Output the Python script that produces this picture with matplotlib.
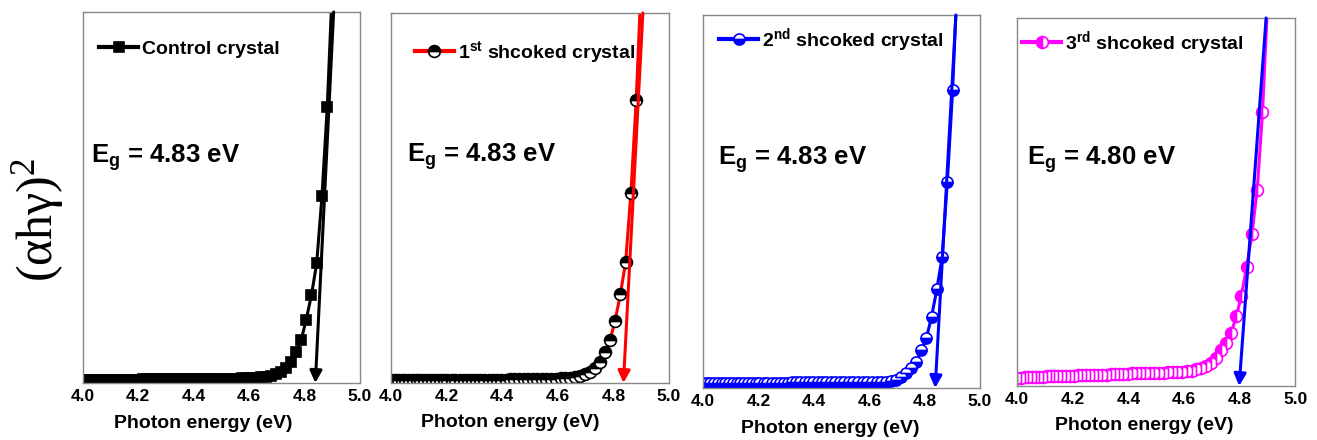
import matplotlib.pyplot as plt

plt.rcParams['font.family'] = ['Liberation Sans', 'DejaVu Sans']
plt.rcParams['font.weight'] = 'bold'

# photon energy (eV), same grid for all four crystals
energy = [4.000, 4.013, 4.026, 4.039, 4.052, 4.066, 4.079, 4.092, 4.106, 4.120,
          4.133, 4.147, 4.161, 4.175, 4.189, 4.203, 4.218, 4.232, 4.247, 4.261,
          4.276, 4.291, 4.306, 4.321, 4.336, 4.351, 4.366, 4.382, 4.397, 4.413,
          4.429, 4.444, 4.460, 4.477, 4.493, 4.509, 4.526, 4.542, 4.559, 4.576,
          4.593, 4.610, 4.627, 4.644, 4.662, 4.679, 4.697, 4.715, 4.733, 4.751,
          4.769, 4.788, 4.806, 4.825, 4.844, 4.863, 4.882, 4.901, 4.921]

# (alpha h nu)^2, arbitrary units
control = [0.8, 0.8, 0.8, 0.8, 0.85, 0.85, 0.85, 0.85, 0.85, 0.9,
           0.9, 0.9, 0.9, 0.9, 0.9, 0.9, 0.95, 0.95, 0.95, 0.95,
           0.95, 1.0, 1.0, 1.0, 1.0, 1.0, 1.0, 1.05, 1.05, 1.05,
           1.05, 1.1, 1.1, 1.1, 1.1, 1.15, 1.15, 1.2, 1.2, 1.25,
           1.3, 1.35, 1.4, 1.5, 1.7, 2.0, 2.4, 3.0, 4.0, 5.7,
           8.4, 11.6, 17.0, 23.7, 32.3, 50.4, 74.4, 108, 150]
first = [0.8, 0.8, 0.8, 0.8, 0.8, 0.8, 0.8, 0.8, 0.8, 0.8,
         0.85, 0.85, 0.85, 0.85, 0.85, 0.85, 0.85, 0.85, 0.85, 0.85,
         0.9, 0.9, 0.9, 0.9, 0.9, 0.9, 0.9, 0.9, 0.9, 0.9,
         0.95, 0.95, 0.95, 1.0, 1.0, 1.0, 1.05, 1.05, 1.1, 1.1,
         1.2, 1.25, 1.3, 1.4, 1.6, 1.9, 2.3, 3.0, 4.0, 5.8,
         8.3, 11.6, 16.8, 24.0, 32.6, 51.4, 76.5, 110, 150]
second = [1.4, 1.4, 1.4, 1.4, 1.4, 1.4, 1.4, 1.4, 1.4, 1.4,
          1.4, 1.4, 1.4, 1.45, 1.45, 1.45, 1.45, 1.45, 1.45, 1.45,
          1.45, 1.45, 1.45, 1.5, 1.5, 1.5, 1.5, 1.5, 1.5, 1.5,
          1.5, 1.5, 1.5, 1.5, 1.5, 1.55, 1.55, 1.55, 1.55, 1.55,
          1.55, 1.6, 1.6, 1.65, 1.7, 1.8, 2.1, 2.9, 3.9, 5.3,
          7.0, 10.2, 13.3, 19.1, 26.5, 35.0, 55.3, 79.9, 115]
third = [2.3, 2.3, 2.4, 2.4, 2.4, 2.5, 2.5, 2.5, 2.6, 2.6,
         2.6, 2.7, 2.7, 2.7, 2.8, 2.8, 2.9, 2.9, 2.9, 3.0,
         3.0, 3.0, 3.1, 3.1, 3.2, 3.2, 3.2, 3.3, 3.3, 3.4,
         3.4, 3.4, 3.5, 3.5, 3.5, 3.6, 3.6, 3.7, 3.7, 3.8,
         3.9, 4.0, 4.2, 4.5, 4.9, 5.5, 6.3, 7.6, 9.8, 11.6,
         14.3, 19.0, 24.5, 32.4, 41.2, 53.3, 74.4, 105, 140]

series = [control, first, second, third]
names = ['Control crystal', r'1$\mathregular{^{st}}$ shcoked crystal',
         r'2$\mathregular{^{nd}}$ shcoked crystal', r'3$\mathregular{^{rd}}$ shcoked crystal']
gaps = ['4.83', '4.83', '4.83', '4.80']
# linear fit: x at bottom (band gap) and x at top of the axes
fit_bottom = [4.839, 4.836, 4.838, 4.798]
fit_top = [4.905, 4.906, 4.913, 4.895]

line_colors = ['black', 'red', 'blue', '#ff00ff']
fit_colors = ['black', 'red', 'blue', 'blue']
markers = ['s', 'o', 'o', 'o']
fills = ['full', 'top', 'bottom', 'left']
face = ['black', 'black', 'blue', '#ff00ff']
edge = ['black', 'black', 'blue', '#ff00ff']
msizes = [7.5, 8.5, 8, 8.5]

# axes boxes in pixels: left, right, top, bottom
boxes = [(82.5, 360, 12, 383), (391, 669, 13, 383), (703.3, 980, 15, 388), (1017.3, 1295.3, 18, 386)]
legend_pos = [(0.061, 0.9), (0.086, 0.895), (0.058, 0.933), (0.018, 0.932)]
text_pos = [(4.032, 59.3), (4.056, 59.8), (4.054, 59.8), (4.034, 60.0)]
xlabel_x = [0.435, 0.428, 0.458, 0.457]

W, H = 1317, 440
fig = plt.figure(figsize=(W / 100, H / 100), dpi=100)

for i in range(4):
    l, r, t, b = boxes[i]
    ax = fig.add_axes([l / W, (H - b) / H, (r - l) / W, (b - t) / H])
    ax.plot(energy, series[i], color=line_colors[i], lw=2.2, marker=markers[i],
            ms=msizes[i], fillstyle=fills[i], markerfacecolor=face[i],
            markerfacecoloralt='white', markeredgecolor=edge[i], markeredgewidth=1.2,
            label=names[i], zorder=2)
    ax.annotate('', xy=(fit_bottom[i], 0), xytext=(fit_top[i], 100),
                arrowprops=dict(arrowstyle='-|>', color=fit_colors[i], lw=2.2,
                                mutation_scale=18, shrinkA=0, shrinkB=0), zorder=3)
    ax.set_xlim(4.0, 5.0)
    ax.set_ylim(0, 100)
    ax.set_xticks([4.0, 4.2, 4.4, 4.6, 4.8, 5.0])
    ax.set_xticklabels(['4.0', '4.2', '4.4', '4.6', '4.8', '5.0'])
    ax.set_yticks([])
    ax.tick_params(axis='x', length=0, pad=4, labelsize=12.5)
    for s in ax.spines.values():
        s.set_color('#888888')
        s.set_linewidth(1)
    ax.set_xlabel('Photon energy (eV)', fontsize=14, fontweight='bold')
    ax.xaxis.set_label_coords(xlabel_x[i], -0.085)
    ax.text(text_pos[i][0], text_pos[i][1], r'E$\mathregular{_g}$ = ' + gaps[i] + ' eV',
            fontsize=18.5, fontweight='bold', va='baseline', ha='left')
    leg = ax.legend(loc='center left', bbox_to_anchor=legend_pos[i], frameon=False,
                    borderpad=0, borderaxespad=0, handlelength=2.0, handletextpad=0.2,
                    prop={'weight': 'bold', 'size': 14})
    for h in leg.legend_handles:
        h.set_linewidth(3)

fig.text(38 / W, 0.5, r'$\mathregular{(\alpha h\gamma)^2}$', rotation=90, fontsize=36,
         family='Liberation Serif', fontweight='normal', ha='center', va='center')

fig.savefig('out.png', dpi=100)
